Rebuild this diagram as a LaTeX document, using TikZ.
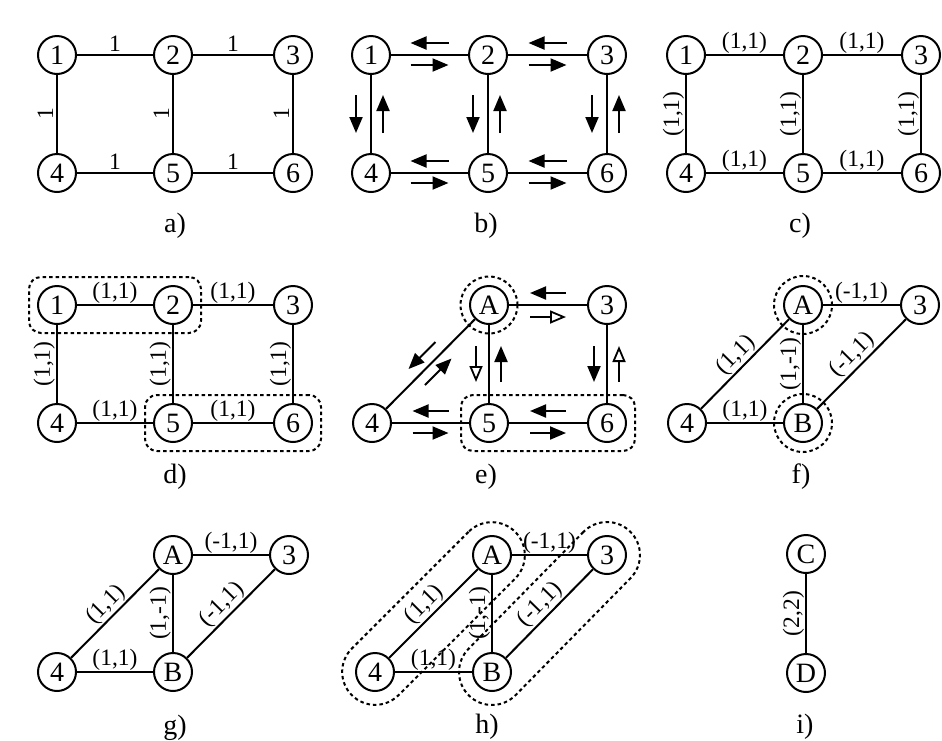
\documentclass[tikz,border=0pt]{standalone}
\usepackage{fontspec}
\setmainfont{Liberation Serif}
\usetikzlibrary{arrows.meta,calc,fit}

\tikzset{
  vertex/.style={circle, draw, line width=2pt, minimum size=38pt, inner sep=0pt, font=\fontsize{28}{28}\selectfont},
  edge/.style={line width=2pt},
  weight/.style={sloped, above, inner sep=1pt, font=\fontsize{23.5}{23.5}\selectfont},
  flow/.style={line width=2pt, -{Triangle[length=16pt,width=13pt]}},
  flowopen/.style={line width=1.8pt, -{Triangle[open,length=16pt,width=13pt]}},
  group/.style={draw, line width=2pt, dash pattern=on 3.5pt off 3pt},
  caption/.style={font=\fontsize{28}{28}\selectfont}
}

\begin{document}
\begin{tikzpicture}[x=1pt, y=-1pt]
\useasboundingbox (0,0) rectangle (942,740);

% a) weighted grid
\foreach \n/\x/\y in {1/57/55, 2/173/55, 3/293/55, 4/57/173, 5/173/173, 6/293/173}
  \node[vertex] (a\n) at (\x,\y) {\n};
\foreach \p/\q in {1/2, 2/3, 4/5, 5/6, 4/1, 5/2, 6/3}
  \draw[edge] (a\p) -- node[weight, inner sep=3pt] {1} (a\q);
\node[caption] (capA) at (175,226) {a)};

% b) messages along the edges
\foreach \n/\x/\y in {1/371/55, 2/488/55, 3/607/55, 4/371/173, 5/488/173, 6/607/173}
  \node[vertex] (b\n) at (\x,\y) {\n};
\foreach \p/\q in {1/2, 2/3, 4/5, 5/6, 4/1, 5/2, 6/3}
  \draw[edge] (b\p) -- (b\q);
\foreach \p/\q in {1/2, 2/3, 4/5, 5/6} {
  \draw[flow] ($(b\p)!0.5!(b\q)+(19,-12)$) -- ++(-38,0);
  \draw[flow] ($(b\p)!0.5!(b\q)+(-19,10)$) -- ++(38,0);
}
\foreach \p/\q in {1/4, 2/5, 3/6} {
  \draw[flow] ($(b\p)!0.5!(b\q)+(-15,-19)$) -- ++(0,38);
  \draw[flow] ($(b\p)!0.5!(b\q)+(12,19)$) -- ++(0,-38);
}
\node[caption] (capB) at (486,226) {b)};

% c) pair weights
\foreach \n/\x/\y in {1/686/55, 2/803/55, 3/921/55, 4/686/173, 5/803/173, 6/921/173}
  \node[vertex] (c\n) at (\x,\y) {\n};
\foreach \p/\q in {1/2, 2/3, 4/5, 5/6, 4/1, 5/2, 6/3}
  \draw[edge] (c\p) -- node[weight] {(1,1)} (c\q);
\node[caption] (capC) at (800,226) {c)};

% d) first grouping
\foreach \n/\x/\y in {1/57/305, 2/173/305, 3/293/305, 4/57/423, 5/173/423, 6/293/423}
  \node[vertex] (d\n) at (\x,\y) {\n};
\foreach \p/\q in {1/2, 2/3, 4/5, 5/6, 4/1, 5/2, 6/3}
  \draw[edge] (d\p) -- node[weight] {(1,1)} (d\q);
\node[group, rounded corners=12pt, fit=(d1)(d2), inner sep=8pt] (dTop) {};
\node[group, rounded corners=12pt, fit=(d5)(d6), inner sep=8pt] (dBottom) {};
\node[caption] (capD) at (175,477) {d)};

% e) merged node A
\node[vertex] (eA) at (489,305) {A};
\node[vertex] (e3) at (607,305) {3};
\node[vertex] (e4) at (372,423) {4};
\node[vertex] (e5) at (489,423) {5};
\node[vertex] (e6) at (607,423) {6};
\foreach \p/\q in {A/3, 4/A, 5/A, 6/3, 4/5, 5/6}
  \draw[edge] (e\p) -- (e\q);
\draw[flow] ($(eA)!0.5!(e3)+(18,-12)$) -- ++(-36,0);
\draw[flowopen] ($(eA)!0.5!(e3)+(-18,12)$) -- ++(36,0);
\foreach \p/\q in {4/5, 5/6} {
  \draw[flow] ($(e\p)!0.5!(e\q)+(18,-12)$) -- ++(-36,0);
  \draw[flow] ($(e\p)!0.5!(e\q)+(-18,10)$) -- ++(36,0);
}
\draw[flowopen] ($(eA)!0.5!(e5)+(-13,-18)$) -- ++(0,36);
\draw[flow] ($(eA)!0.5!(e5)+(12,18)$) -- ++(0,-36);
\draw[flow] ($(e3)!0.5!(e6)+(-13,-18)$) -- ++(0,36);
\draw[flowopen] ($(e3)!0.5!(e6)+(12,18)$) -- ++(0,-36);
\coordinate (eMid) at ($(e4)!0.5!(eA)$);
\draw[flow] ($(eMid)+(5,-22)$) -- ($(eMid)+(-22,5)$);
\draw[flow] ($(eMid)+(-5.5,21)$) -- ($(eMid)+(21,-5.5)$);
\node[group, circle, minimum size=57pt, inner sep=0pt] (eRing) at (eA) {};
\node[group, rounded corners=12pt, fit=(e5)(e6), inner sep=8pt] (eBottom) {};
\node[caption] (capE) at (486,477) {e)};

% f) second grouping
\node[vertex] (fA) at (803,305) {A};
\node[vertex] (f3) at (920,305) {3};
\node[vertex] (f4) at (687,423) {4};
\node[vertex] (fB) at (803,423) {B};
\draw[edge] (f4) -- node[weight] {(1,1)} (fA);
\draw[edge] (fA) -- node[weight] {(-1,1)} (f3);
\draw[edge] (fB) -- node[weight] {(1,-1)} (fA);
\draw[edge] (f4) -- node[weight] {(1,1)} (fB);
\draw[edge] (fB) -- node[weight] {(-1,1)} (f3);
\node[group, circle, minimum size=58pt, inner sep=0pt] (fRingA) at (fA) {};
\node[group, circle, minimum size=58pt, inner sep=0pt] (fRingB) at (fB) {};
\node[caption] (capF) at (801,477) {f)};

% g) reduced graph
\node[vertex] (gA) at (173,555) {A};
\node[vertex] (g3) at (289,555) {3};
\node[vertex] (g4) at (57,672) {4};
\node[vertex] (gB) at (173,672) {B};
\draw[edge] (g4) -- node[weight] {(1,1)} (gA);
\draw[edge] (gA) -- node[weight] {(-1,1)} (g3);
\draw[edge] (gB) -- node[weight] {(1,-1)} (gA);
\draw[edge] (g4) -- node[weight] {(1,1)} (gB);
\draw[edge] (gB) -- node[weight] {(-1,1)} (g3);
\node[caption] (capG) at (175,728) {g)};

% h) diagonal grouping
\node[vertex] (hA) at (492,555) {A};
\node[vertex] (h3) at (607,555) {3};
\node[vertex] (h4) at (375,672) {4};
\node[vertex] (hB) at (492,672) {B};
\draw[edge] (h4) -- node[weight] {(1,1)} (hA);
\draw[edge] (hA) -- node[weight] {(-1,1)} (h3);
\draw[edge] (hB) -- node[weight] {(1,-1)} (hA);
\draw[edge] (h4) -- node[weight] {(1,1)} (hB);
\draw[edge] (hB) -- node[weight] {(-1,1)} (h3);
\node[group, rounded corners=33pt, minimum width=231pt, minimum height=66pt, rotate=45]
  (hLeft) at ($(h4)!0.5!(hA)$) {};
\node[group, rounded corners=33pt, minimum width=230pt, minimum height=66pt, rotate=45.5]
  (hRight) at ($(hB)!0.5!(h3)$) {};
\node[caption] (capH) at (487,727) {h)};

% i) final pair
\node[vertex] (iC) at (806,554) {C};
\node[vertex] (iD) at (806,673) {D};
\draw[edge] (iD) -- node[weight] {(2,2)} (iC);
\node[caption] (capI) at (805,727) {i)};
\end{tikzpicture}
\end{document}
